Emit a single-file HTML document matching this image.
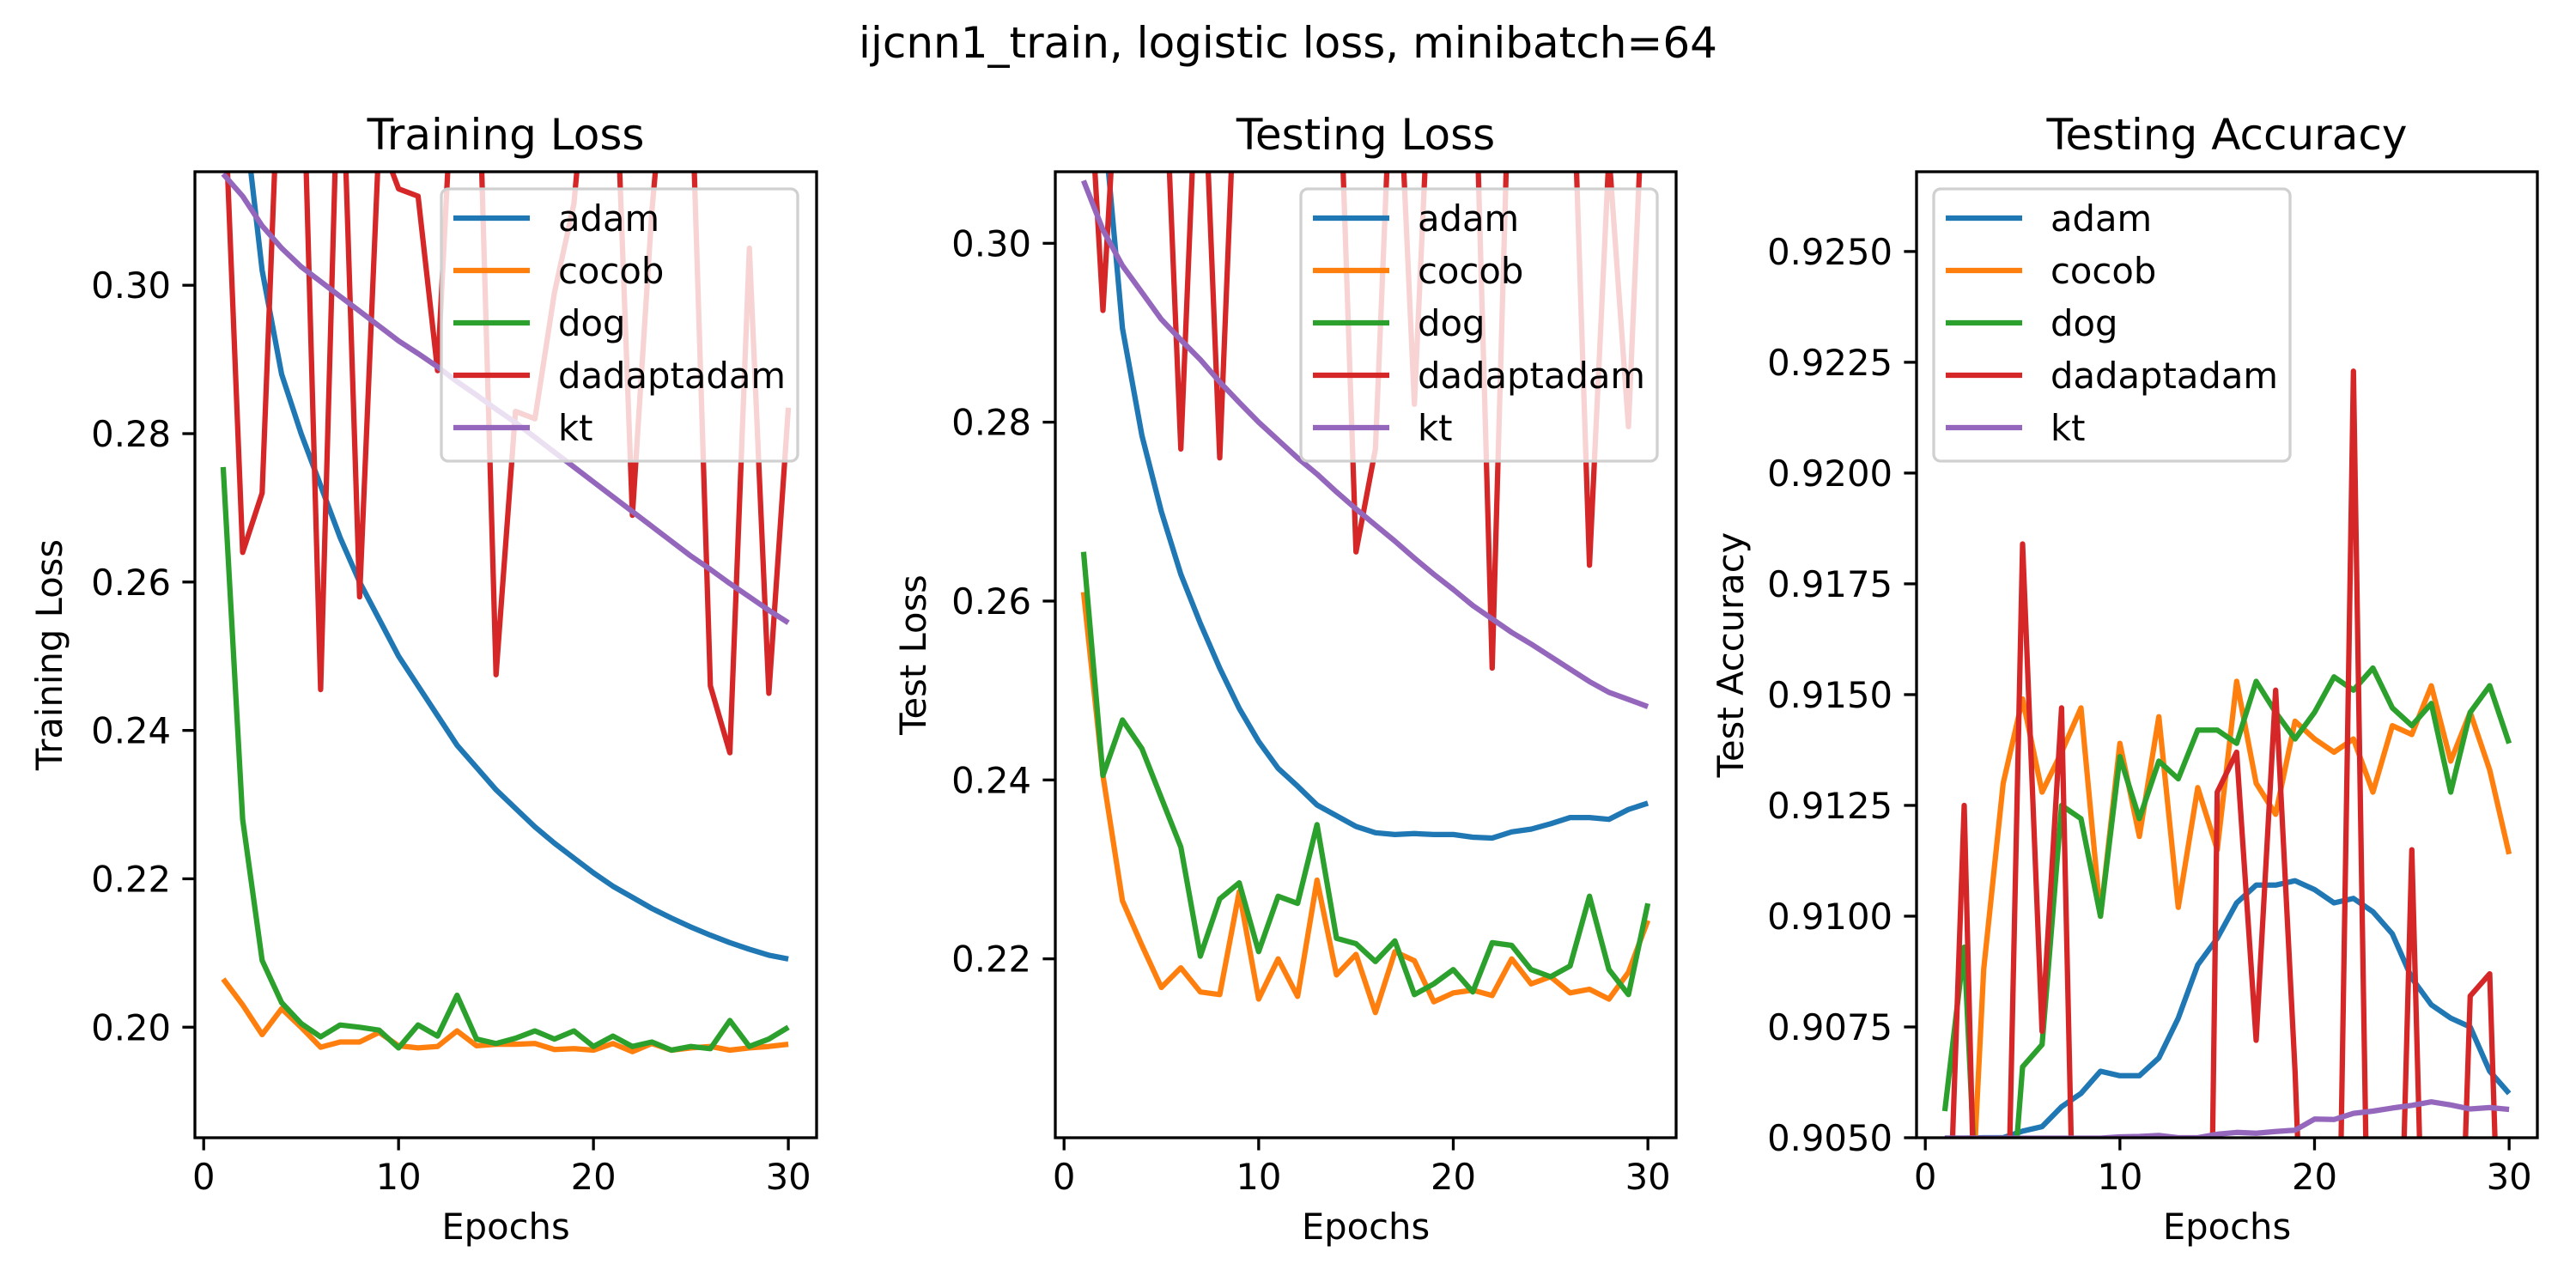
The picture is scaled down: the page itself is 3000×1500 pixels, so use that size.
<!DOCTYPE html>
<html><head><meta charset="utf-8"><style>
html,body{margin:0;padding:0;background:#fff;overflow:hidden;width:3000px;height:1500px}
svg{display:block}
text{font-family:"DejaVu Sans","Liberation Sans",sans-serif;fill:#000}
</style></head><body>
<svg id="fig" width="3000" height="1500" viewBox="0 0 3000 1500">
<text x="1500" y="67" font-size="50" text-anchor="middle">ijcnn1_train, logistic loss, minibatch=64</text>
</svg>
<script>
const epochs = [1,2,3,4,5,6,7,8,9,10,11,12,13,14,15,16,17,18,19,20,21,22,23,24,25,26,27,28,29,30];
const seriesNames = ["adam","cocob","dog","dadaptadam","kt"];
const colors = ["#1f77b4","#ff7f0e","#2ca02c","#d62728","#9467bd"];

const trainAdam = [0.36,0.325,0.302,0.288,0.280,0.273,0.266,0.260,0.255,0.250,0.246,0.242,0.238,0.235,0.232,0.2295,0.227,0.2248,0.2228,0.2208,0.219,0.2175,0.216,0.2147,0.2135,0.2124,0.2114,0.2105,0.2097,0.2092];
const trainCocob = [0.2065,0.203,0.199,0.2025,0.200,0.1973,0.198,0.198,0.1993,0.1975,0.1972,0.1974,0.1995,0.1975,0.1977,0.1977,0.1978,0.197,0.1971,0.1969,0.1978,0.1967,0.1978,0.1969,0.1972,0.1974,0.1969,0.1972,0.1974,0.1977];
const trainDog = [0.2755,0.228,0.209,0.2033,0.2005,0.1987,0.2003,0.2,0.1996,0.1972,0.2003,0.1988,0.2043,0.1984,0.1978,0.1985,0.1995,0.1984,0.1995,0.1974,0.1988,0.1974,0.198,0.1969,0.1974,0.1971,0.2009,0.1974,0.1984,0.2];
const trainDadapt = [0.33,0.264,0.272,0.34,0.34,0.2455,0.34,0.258,0.32,0.313,0.312,0.2885,0.34,0.34,0.2475,0.283,0.282,0.299,0.311,0.34,0.34,0.269,0.31,0.34,0.33,0.246,0.237,0.305,0.245,0.2835];
const trainKt = [0.315,0.312,0.308,0.305,0.3025,0.3005,0.2985,0.2965,0.2945,0.2925,0.2908,0.289,0.287,0.2852,0.2833,0.2815,0.2795,0.2775,0.2755,0.2735,0.2715,0.2695,0.2675,0.2655,0.2635,0.2617,0.2598,0.258,0.2562,0.2545];

const testAdam = [0.33,0.315,0.2905,0.2785,0.270,0.263,0.2575,0.2525,0.248,0.2443,0.2413,0.2393,0.2372,0.236,0.2348,0.2341,0.2339,0.234,0.2339,0.2339,0.2336,0.2335,0.2342,0.2345,0.2351,0.2358,0.2358,0.2356,0.2367,0.2374];
const testCocob = [0.261,0.2405,0.2265,0.2215,0.2168,0.219,0.2163,0.216,0.2275,0.2155,0.220,0.2158,0.2288,0.2182,0.2205,0.214,0.2208,0.2198,0.2152,0.2162,0.2165,0.2159,0.22,0.2172,0.218,0.2162,0.2166,0.2155,0.2185,0.2243];
const testDog = [0.2655,0.2405,0.2467,0.2435,0.238,0.2325,0.2203,0.2267,0.2285,0.2208,0.227,0.2262,0.235,0.2223,0.2217,0.2197,0.222,0.216,0.2172,0.2188,0.2163,0.2218,0.2215,0.2188,0.218,0.2192,0.227,0.2188,0.216,0.2262];
const testDadapt = [0.33,0.2925,0.33,0.33,0.33,0.277,0.33,0.276,0.33,0.33,0.33,0.33,0.33,0.33,0.2655,0.277,0.33,0.282,0.33,0.33,0.33,0.2525,0.33,0.33,0.33,0.33,0.264,0.31,0.2795,0.33];
const testKt = [0.307,0.3015,0.2975,0.2945,0.2915,0.2892,0.287,0.2845,0.2822,0.28,0.278,0.276,0.2742,0.2722,0.2703,0.2685,0.2667,0.2648,0.263,0.2613,0.2595,0.258,0.2565,0.2552,0.2538,0.2524,0.251,0.2498,0.249,0.2482];

const accAdam = [0.90499,0.90499,0.905,0.905,0.90515,0.90525,0.9057,0.906,0.9065,0.9064,0.9064,0.9068,0.9077,0.9089,0.9095,0.9103,0.9107,0.9107,0.9108,0.9106,0.9103,0.9104,0.9101,0.9096,0.9086,0.908,0.9077,0.9075,0.9065,0.906];
const accCocob = [0.900,0.900,0.9088,0.913,0.9149,0.9128,0.9137,0.9147,0.91,0.9139,0.9118,0.9145,0.9102,0.9129,0.9115,0.9153,0.913,0.9123,0.9144,0.914,0.9137,0.914,0.9128,0.9143,0.9141,0.9152,0.9135,0.9146,0.9133,0.9114];
const accDog = [0.9056,0.9093,0.900,0.901,0.9066,0.9071,0.9125,0.9122,0.91,0.9136,0.9122,0.9135,0.9131,0.9142,0.9142,0.9139,0.9153,0.9146,0.914,0.9146,0.9154,0.9151,0.9156,0.9147,0.9143,0.9148,0.9128,0.9146,0.9152,0.9139];
const accDadapt = [0.900,0.9125,0.895,0.898,0.9184,0.9074,0.9147,0.895,0.895,0.895,0.895,0.895,0.895,0.88,0.9128,0.9137,0.9072,0.9151,0.9065,0.895,0.895,0.9223,0.895,0.895,0.9115,0.895,0.895,0.9082,0.9087,0.895];
const accKt = [0.90499,0.90499,0.90499,0.90499,0.90499,0.90499,0.90499,0.90499,0.90499,0.90502,0.90503,0.90505,0.905,0.905,0.90508,0.90512,0.9051,0.90514,0.90517,0.90542,0.90541,0.90555,0.9056,0.90567,0.90573,0.90581,0.90574,0.90565,0.90568,0.90564];

const xTicks = [0,10,20,30];
const yTicks1 = [0.20,0.22,0.24,0.26,0.28,0.30];
const yTicks2 = [0.22,0.24,0.26,0.28,0.30];
const yTicks3 = [0.9050,0.9075,0.9100,0.9125,0.9150,0.9175,0.9200,0.9225,0.9250];

const NS = "http://www.w3.org/2000/svg";
const svg = document.getElementById('fig');
function mk(tag, attrs, parent){
  const e = document.createElementNS(NS, tag);
  for (const k in attrs) e.setAttribute(k, attrs[k]);
  (parent||svg).appendChild(e);
  return e;
}
const TOP = 200, BOT = 1325;
const FS = 41.7;
const panels = [
  {key:"training-loss", x0:227, x1:951, ymin:0.1851, ymax:0.3153, ticks:yTicks1, dec:2, title:"Training Loss", ylabel:"Training Loss", ylx:72,
   data:[trainAdam,trainCocob,trainDog,trainDadapt,trainKt], lx:514},
  {key:"testing-loss", x0:1229, x1:1952, ymin:0.2000, ymax:0.3080, ticks:yTicks2, dec:2, title:"Testing Loss", ylabel:"Test Loss", ylx:1078,
   data:[testAdam,testCocob,testDog,testDadapt,testKt], lx:1515},
  {key:"testing-accuracy", x0:2232, x1:2955, ymin:0.9050, ymax:0.9268, ticks:yTicks3, dec:4, title:"Testing Accuracy", ylabel:"Test Accuracy", ylx:2030,
   data:[accAdam,accCocob,accDog,accDadapt,accKt], lx:2252}
];
panels.forEach((p, pi) => {
  const g = mk('g', {});
  
  
  const xs = v => p.x0 + (v + 0.45) / 31.9 * (p.x1 - p.x0);
  const ys = v => BOT - (v - p.ymin) / (p.ymax - p.ymin) * (BOT - TOP);
  const cid = 'clip' + pi;
  const cp = mk('clipPath', {id: cid}, g);
  mk('rect', {x:p.x0, y:TOP, width:p.x1-p.x0, height:BOT-TOP}, cp);
  p.data.forEach((arr, si) => {
    const pts = arr.map((v, i) => xs(epochs[i]).toFixed(1) + ',' + ys(v).toFixed(1)).join(' ');
    const l = mk('polyline', {points: pts, fill:'none', stroke: colors[si], 'stroke-width': 6.25, 'stroke-linejoin':'round', 'clip-path':'url(#'+cid+')'}, g);
    
    
  });
  const fr = mk('rect', {x:p.x0, y:TOP, width:p.x1-p.x0, height:BOT-TOP, fill:'none', stroke:'#000', 'stroke-width':3.3}, g);
  
  
  xTicks.forEach(t => {
    const x = xs(t);
    mk('line', {x1:x, x2:x, y1:BOT, y2:BOT+14.6, stroke:'#000', 'stroke-width':3.3}, g);
    const tx = mk('text', {x:x, y:BOT+60, 'font-size':FS, 'text-anchor':'middle'}, g);
    tx.textContent = t;
    
    
  });
  p.ticks.forEach(t => {
    const y = ys(t);
    mk('line', {x1:p.x0-14.6, x2:p.x0, y1:y, y2:y, stroke:'#000', 'stroke-width':3.3}, g);
    const tx = mk('text', {x:p.x0-28, y:y+15, 'font-size':FS, 'text-anchor':'end'}, g);
    tx.textContent = t.toFixed(p.dec);
    
    
  });
  const ti = mk('text', {x:(p.x0+p.x1)/2, y:174, 'font-size':50, 'text-anchor':'middle'}, g);
  ti.textContent = p.title;
  
  
  const xl = mk('text', {x:(p.x0+p.x1)/2, y:1443, 'font-size':FS, 'text-anchor':'middle'}, g);
  xl.textContent = 'Epochs';
  
  
  const cy = (TOP+BOT)/2;
  const yl = mk('text', {x:p.ylx, y:cy, 'font-size':FS, 'text-anchor':'middle', transform:'rotate(-90 '+p.ylx+' '+cy+')'}, g);
  yl.textContent = p.ylabel;
  
  
  const lg = mk('g', {}, g);
  
  
  mk('rect', {x:p.lx, y:220, width:415, height:317, rx:8, fill:'rgba(255,255,255,0.8)', stroke:'#d0d0d0', 'stroke-width':3.3}, lg);
  seriesNames.forEach((n, si) => {
    const y = 254 + si * 61;
    const e = mk('g', {}, lg);
    
    
    mk('line', {x1:p.lx+14, x2:p.lx+103, y1:y, y2:y, stroke:colors[si], 'stroke-width':6.25}, e);
    const t = mk('text', {x:p.lx+136, y:y+15, 'font-size':FS}, e);
    t.textContent = n;
  });
});
</script>
</body></html>
